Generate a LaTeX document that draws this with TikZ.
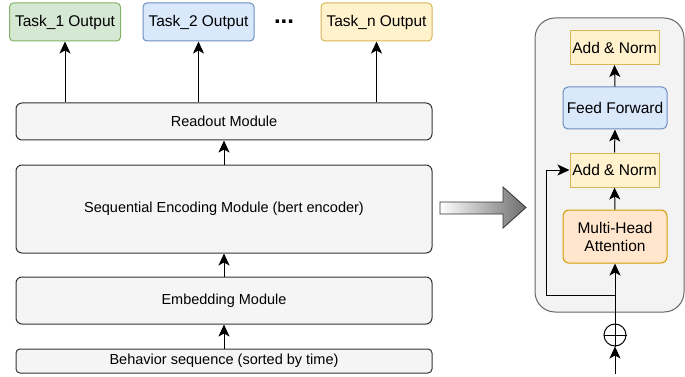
\documentclass[tikz,border=0pt]{standalone}
\usepackage{fontspec}
\setmainfont{Liberation Sans}
\usetikzlibrary{arrows.meta}
\definecolor{greenfill}{HTML}{D5E8D4}\definecolor{greenline}{HTML}{82B366}
\definecolor{bluefill}{HTML}{DAE8FC}\definecolor{blueline}{HTML}{6C8EBF}
\definecolor{yellowfill}{HTML}{FFF2CC}\definecolor{yellowline}{HTML}{D6B656}
\definecolor{orangefill}{HTML}{FFE6CC}\definecolor{orangeline}{HTML}{D79B00}
\definecolor{modfill}{HTML}{F5F5F5}\definecolor{modline}{HTML}{333333}
\definecolor{panelfill}{HTML}{F3F3F3}\definecolor{panelline}{HTML}{666666}
\tikzset{
  lbl/.style={font=\fontsize{14.5}{17}\selectfont, text=black, align=center, inner sep=0pt},
  biglbl/.style={lbl, font=\fontsize{15.5}{18}\selectfont},
  taskbox/.style={biglbl, draw, line width=1pt, rounded corners=4pt, minimum width=111, minimum height=38},
  modbox/.style={lbl, draw=modline, fill=modfill, line width=1pt, rounded corners=6pt, minimum width=416},
  layerbox/.style={biglbl, draw=yellowline, fill=yellowfill, line width=1pt, minimum width=89, minimum height=34},
  flow/.style={line width=1pt, -{Stealth[length=12pt,width=11pt,inset=3pt]}},
}
\begin{document}
\begin{tikzpicture}[x=1pt,y=-1pt]
\useasboundingbox (0,0) rectangle (685,377);

% task heads
\node[taskbox, draw=greenline, fill=greenfill] (t1) at (65,22) {Task\_1 Output};
\node[taskbox, draw=blueline, fill=bluefill] (t2) at (198.5,22) {Task\_2 Output};
\node[taskbox, draw=yellowline, fill=yellowfill] (tn) at (376.5,22) {Task\_n Output};
\node[lbl, font=\bfseries\fontsize{24}{24}\selectfont] (dots) at (284,22) {...};

% backbone modules
\node[modbox, minimum height=37] (readout) at (224,121.5) {Readout Module};
\node[modbox, minimum height=88] (seq) at (224,209) {Sequential Encoding Module (bert encoder)};
\node[modbox, minimum height=47] (emb) at (224,300.5) {Embedding Module};
\node[modbox, minimum height=24, rounded corners=4pt] (beh) at (224,361) {Behavior sequence (sorted by time)};

\draw[flow] (readout.north -| t1) -- (t1.south);
\draw[flow] (readout.north -| t2) -- (t2.south);
\draw[flow] (readout.north -| tn) -- (tn.south);
\draw[flow] (seq.north) -- (readout.south);
\draw[flow] (emb.north) -- (seq.south);
\draw[flow] (beh.north) -- (emb.south);

% expansion arrow
\path[draw=modline, line width=0.8pt, left color=white, right color=gray!85!black]
  (440,202) -- (503,202) -- (503,187) -- (526,207.5) -- (503,228) -- (503,214) -- (440,214) -- cycle;

% encoder layer panel
\node[draw=panelline, fill=panelfill, line width=1pt, rounded corners=20pt,
      minimum width=149, minimum height=294, inner sep=0pt] (panel) at (609.5,165) {};

\node[layerbox] (an2) at (614.5,47.5) {Add \& Norm};
\node[biglbl, draw=blueline, fill=bluefill, line width=1pt, rounded corners=5pt,
      minimum width=104, minimum height=42] (ff) at (615,108) {Feed Forward};
\node[layerbox] (an1) at (614.5,170) {Add \& Norm};
\node[biglbl, draw=orangeline, fill=orangefill, line width=1pt, rounded corners=6pt,
      minimum width=104, minimum height=53] (mha) at (615,236.5) {Multi-Head\\Attention};

\node[draw, line width=1pt, circle, minimum size=22, inner sep=0pt] (plus) at (615,335) {};
\draw[line width=1pt] (plus.north) -- (plus.south) (plus.west) -- (plus.east);

\coordinate (src) at (615,374);
\coordinate (branch) at (615,295);
\coordinate (skipcorner) at (546,295);

\draw[flow] (src) -- (plus.south);
\draw[flow] (plus.north) -- (mha.south);
\draw[flow] (mha.north) -- (an1.south);
\draw[flow] (an1.north) -- (ff.south);
\draw[flow] (ff.north) -- (an2.south);
\draw[flow] (branch) -- (skipcorner) |- (an1.west);
\end{tikzpicture}
\end{document}
